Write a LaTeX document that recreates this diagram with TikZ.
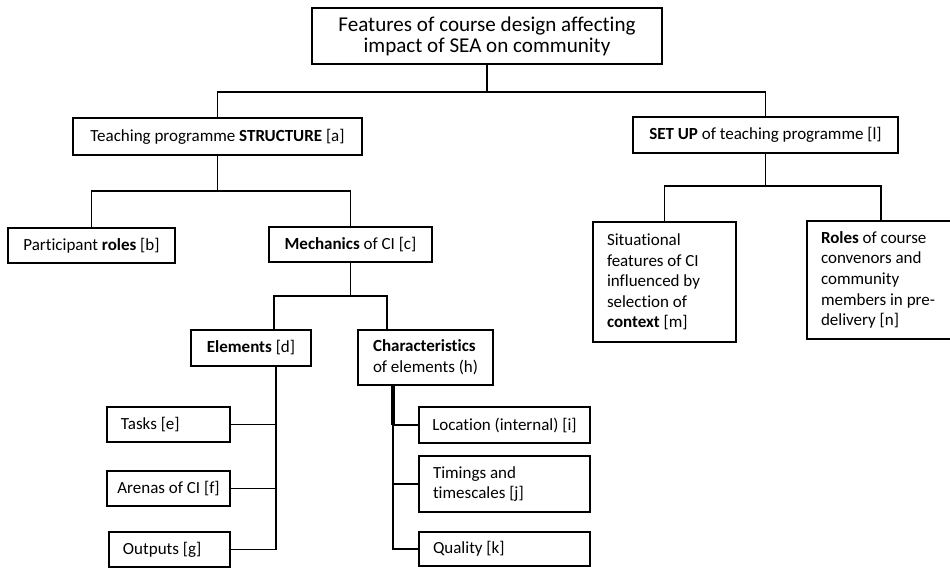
\documentclass[tikz,border=0pt]{standalone}
\usepackage{fontspec}
\setmainfont[Ligatures=NoCommon]{Carlito}
\usetikzlibrary{calc}
\tikzset{
  box/.style={draw, line width=1.7pt, align=flush left, inner xsep=0.42cm, inner ysep=0pt,
    font=\fontsize{14.5}{17.6}\selectfont},
  link/.style={line width=1.4pt}
}
\begin{document}
\begin{tikzpicture}[x=0.03cm, y=-0.03cm]
        \useasboundingbox (0,0) rectangle (950,568);
        % Draw top box
        \node[box, align=flush center, minimum width=10.5cm, minimum height=1.68cm,
          font=\fontsize{18}{18}\selectfont] (root) at (487,36)
          {Features of course design affecting\\impact of SEA on community};
        % Draw second level
        \node[box, minimum width=8.67cm, minimum height=1.11cm] (struct) at (217.5,136.5)
          {Teaching programme \textbf{STRUCTURE} [a]};
        \node[box, minimum width=7.95cm, minimum height=1.08cm] (setup) at (765.5,135)
          {\textbf{SET UP} of teaching programme [l]};
        % Draw third level
        \node[box, minimum width=5.01cm, minimum height=1.05cm] (roles) at (91.5,245.5)
          {Participant \textbf{roles} [b]};
        \node[box, minimum width=4.89cm, minimum height=1.05cm] (mech) at (350.5,244.5)
          {\textbf{Mechanics} of CI [c]};
        \node[box, text width=3.45cm, minimum height=3.6cm] (situ) at (664.5,282)
          {Situational\\features of CI\\influenced by\\selection of\\\textbf{context} [m]};
        \node[box, text width=3.6cm, minimum height=3.54cm] (convenor) at (881,280)
          {\textbf{Roles} of course\\convenors and\\community\\members in pre-\\delivery [n]};
        % Draw fourth level
        \node[box, minimum width=3.6cm, minimum height=1.08cm] (elem) at (251,348)
          {\textbf{Elements} [d]};
        \node[box, minimum width=4.05cm, minimum height=1.65cm] (charac) at (425.5,357.5)
          {\textbf{Characteristics}\\of elements (h)};
        % Draw leaves
        \node[box, text width=2.85cm, minimum height=1.05cm] (tasks) at (168.5,424.5) {Tasks [e]};
        \node[box, inner xsep=0.3cm, minimum width=3.69cm, minimum height=1.05cm] (arenas) at (168.5,488.5) {Arenas of CI [f]};
        \node[box, text width=2.79cm, minimum height=1.05cm] (outputs) at (169.5,549.5) {Outputs [g]};
        \node[box, inner xsep=0.3cm, minimum width=5.13cm, minimum height=1.08cm] (location) at (504.5,425) {Location (internal) [i]};
        \node[box, text width=4.29cm, minimum height=1.68cm] (timings) at (504.5,484) {Timings and\\timescales [j]};
        \node[box, text width=4.29cm, minimum height=1.02cm] (quality) at (504.5,549) {Quality [k]};
        % Connect levels
        \coordinate (j0) at (487,92);
        \draw[link] (root) -- (j0) -| (struct);
        \draw[link] (j0) -| (setup);
        \coordinate (j1) at (217.5,191);
        \draw[link] (struct) -- (j1) -| (roles);
        \draw[link] (j1) -| (mech);
        \coordinate (j2) at (765.5,186);
        \draw[link] (setup) -- (j2) -| (situ);
        \draw[link] (j2) -| (convenor);
        \coordinate (j3) at (350.5,296);
        \draw[link] (mech) -- (j3) -| ($(elem.north)+(23,0)$);
        \draw[link] (j3) -| ($(charac.north)+(-38.5,0)$);
        % Trunks down to the leaves
        \coordinate (etrunk) at ($(elem.south)+(25,0)$);
        \draw[link] (etrunk) |- (outputs);
        \foreach \n in {tasks,arenas}
            \draw[link] (\n) -- (\n -| etrunk);
        \coordinate (ctrunk) at ($(charac.south)+(-32.5,0)$);
        \draw[link] (ctrunk) |- (quality);
        \draw[line width=2.6pt] (ctrunk) -- (location -| ctrunk);
        \foreach \n in {location,timings}
            \draw[link] (\n) -- (\n -| ctrunk);
\end{tikzpicture}
\end{document}
